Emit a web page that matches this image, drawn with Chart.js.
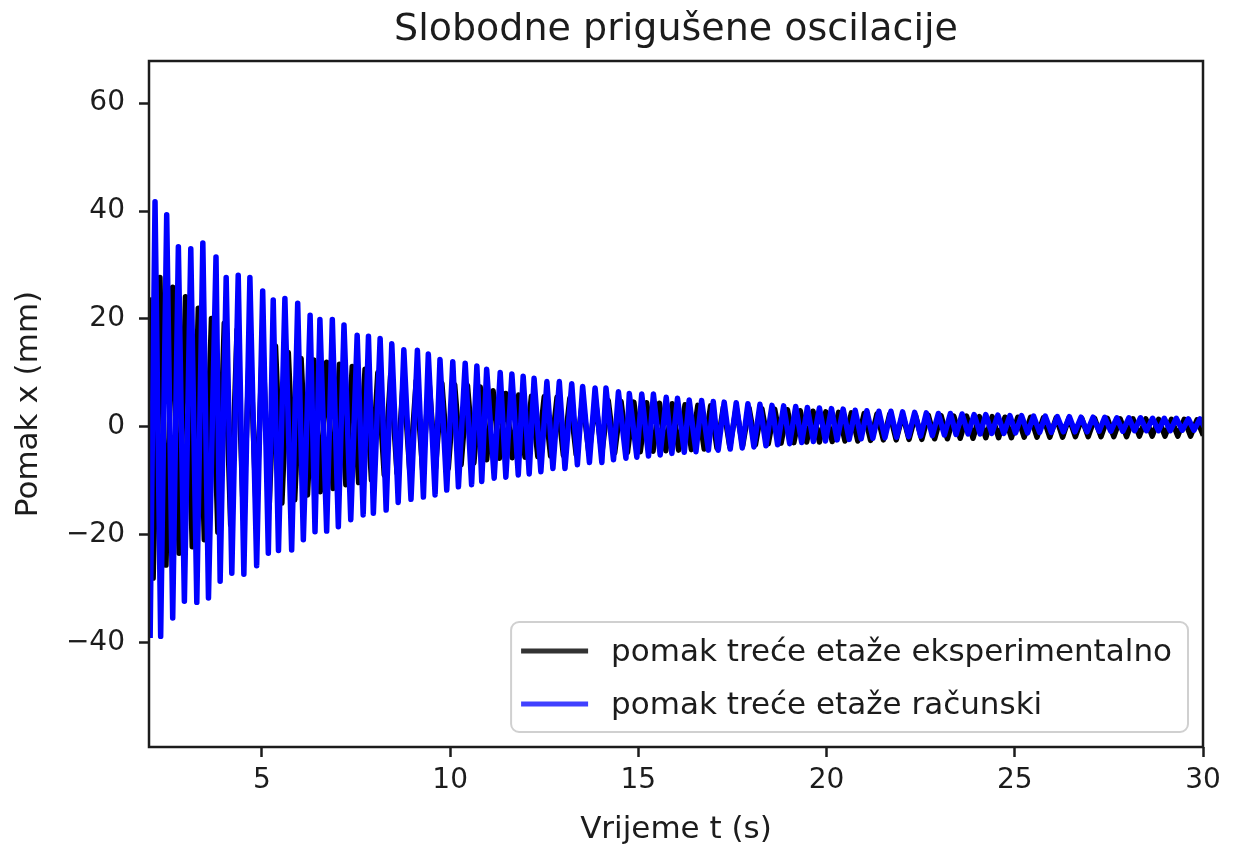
<!DOCTYPE html>
<html>
<head>
<meta charset="utf-8">
<title>Slobodne prigušene oscilacije</title>
<script src="https://cdn.jsdelivr.net/npm/chart.js@4.4.1/dist/chart.umd.min.js"></script>
<style>
  html, body { margin: 0; padding: 0; background: #fff; }
  #wrap { width: 1233px; height: 850px; }
</style>
</head>
<body>
<div id="wrap"><canvas id="osc" width="1233" height="850"></canvas></div>
<script>
// ── Data (extrema) ───────────────────────────────────────
const X_TICKS = [5, 10, 15, 20, 25, 30];
const Y_TICKS = [-40, -20, 0, 20, 40, 60];

// black: pomak treće etaže eksperimentalno
const expPeakT = [2.00, 2.29, 2.63, 2.97, 3.31, 3.66, 4.00, 4.34, 4.68, 5.02, 5.36, 5.70, 6.04, 6.38, 6.72, 7.06, 7.40, 7.74, 8.08, 8.42,
  8.76, 9.10, 9.44, 9.78, 10.12, 10.46, 10.80, 11.14, 11.48, 11.82, 12.16, 12.50, 12.84, 13.18, 13.52, 13.86, 14.20, 14.54, 14.88, 15.22,
  15.56, 15.90, 16.24, 16.58, 16.92, 17.26, 17.60, 17.94, 18.28, 18.62, 18.96, 19.30, 19.64, 19.98, 20.32, 20.66, 21.00, 21.34, 21.68, 22.02,
  22.36, 22.70, 23.04, 23.38, 23.72, 24.06, 24.40, 24.74, 25.08, 25.42, 25.76, 26.10, 26.44, 26.78, 27.12, 27.46, 27.80, 28.14, 28.48, 28.82,
  29.16, 29.50, 29.84, 30.18];
const expPeakV = [24.0, 27.7, 25.9, 24.1, 22.0, 20.1, 19.2, 18.0, 17.2, 16.1, 15.0, 13.8, 12.7, 12.4, 12.0, 11.6, 11.2, 10.7, 10.1, 9.6,
  9.0, 8.6, 8.4, 8.1, 7.8, 7.7, 7.4, 6.7, 6.2, 5.9, 5.7, 5.6, 5.5, 5.3, 5.1, 5.0, 4.9, 4.7, 4.6, 4.5,
  4.4, 4.3, 4.1, 4.0, 3.9, 3.7, 3.6, 3.5, 3.4, 3.3, 3.2, 3.0, 2.9, 2.8, 2.7, 2.6, 2.5, 2.4, 2.4, 2.3,
  2.2, 2.2, 2.1, 2.0, 2.0, 1.9, 1.9, 1.8, 1.8, 1.8, 1.7, 1.7, 1.7, 1.6, 1.6, 1.6, 1.5, 1.5, 1.5, 1.4,
  1.4, 1.4, 1.3, 1.3];
const expTroughT = [2.11, 2.45, 2.80, 3.15, 3.47, 3.83, 4.17, 4.51, 4.85, 5.19, 5.53, 5.87, 6.21, 6.55, 6.89, 7.23, 7.57, 7.91, 8.25, 8.59,
  8.93, 9.27, 9.61, 9.95, 10.29, 10.63, 10.97, 11.31, 11.65, 11.99, 12.33, 12.67, 13.01, 13.35, 13.69, 14.03, 14.37, 14.71, 15.05, 15.39,
  15.73, 16.07, 16.41, 16.75, 17.09, 17.43, 17.77, 18.11, 18.45, 18.79, 19.13, 19.47, 19.81, 20.15, 20.49, 20.83, 21.17, 21.51, 21.85, 22.19,
  22.53, 22.87, 23.21, 23.55, 23.89, 24.23, 24.57, 24.91, 25.25, 25.59, 25.93, 26.27, 26.61, 26.95, 27.29, 27.63, 27.97, 28.31, 28.65, 28.99,
  29.33, 29.67, 30.01];
const expTroughV = [-28.0, -25.6, -23.4, -22.2, -20.9, -19.5, -18.1, -17.2, -16.0, -15.1, -14.1, -13.5, -12.6, -12.0, -11.4, -10.7, -10.3, -9.8, -8.9, -8.6,
  -8.3, -8.0, -7.7, -7.7, -7.0, -6.7, -6.1, -5.8, -5.7, -5.6, -5.5, -5.4, -5.3, -5.2, -5.0, -4.9, -4.8, -4.7, -4.6, -4.5,
  -4.4, -4.3, -4.2, -4.1, -3.9, -3.7, -3.5, -3.3, -3.1, -3.0, -2.9, -2.8, -2.8, -2.7, -2.6, -2.6, -2.5, -2.4, -2.4, -2.3,
  -2.3, -2.2, -2.2, -2.1, -2.1, -2.0, -2.0, -2.0, -1.9, -1.9, -1.9, -1.9, -1.8, -1.8, -1.8, -1.8, -1.8, -1.7, -1.7, -1.7,
  -1.7, -1.7, -1.6];

// blue: pomak treće etaže računski
const calcPeakT = [2.16, 2.47, 2.78, 3.11, 3.43, 3.78, 4.05, 4.37, 4.68, 5.02, 5.30, 5.61, 5.95, 6.28, 6.54, 6.87, 7.18, 7.53, 7.83, 8.14,
  8.45, 8.77, 9.13, 9.42, 9.73, 10.07, 10.40, 10.71, 10.97, 11.33, 11.64, 11.94, 12.23, 12.57, 12.90, 13.23, 13.52, 13.85, 14.14, 14.47,
  14.76, 15.09, 15.40, 15.74, 16.04, 16.35, 16.68, 16.99, 17.28, 17.60, 17.91, 18.23, 18.55, 18.86, 19.18, 19.49, 19.81, 20.13,
  20.44, 20.76, 21.07, 21.39, 21.71, 22.02, 22.34, 22.65, 22.97, 23.29, 23.60, 23.92, 24.23, 24.55, 24.87, 25.18, 25.50, 25.81, 26.13, 26.45,
  26.76, 27.08, 27.39, 27.71, 28.03, 28.34, 28.66, 28.97, 29.29, 29.61, 29.92];
const calcPeakV = [41.7, 39.3, 33.4, 33.0, 34.1, 31.5, 27.7, 28.1, 27.7, 25.2, 23.5, 23.8, 22.9, 20.7, 19.9, 19.9, 18.9, 17.0, 16.8, 16.4,
  15.4, 14.3, 14.2, 13.5, 12.5, 12.1, 11.8, 11.3, 10.7, 10.1, 9.8, 9.4, 9.0, 8.4, 8.4, 8.0, 7.5, 7.2, 7.2, 6.5,
  6.2, 6.1, 6.1, 5.5, 5.3, 5.0, 4.9, 4.7, 4.6, 4.5, 4.3, 4.2, 4.0, 3.9, 3.8, 3.6, 3.5, 3.4,
  3.3, 3.1, 3.0, 2.9, 2.9, 2.8, 2.7, 2.6, 2.5, 2.5, 2.4, 2.3, 2.3, 2.2, 2.1, 2.1, 2.0, 2.0, 1.9, 1.9,
  1.8, 1.8, 1.8, 1.7, 1.7, 1.7, 1.6, 1.6, 1.6, 1.5, 1.5];
const calcTroughT = [2.03, 2.31, 2.63, 2.94, 3.27, 3.58, 3.89, 4.20, 4.52, 4.86, 5.17, 5.44, 5.79, 6.10, 6.41, 6.72, 7.03, 7.36, 7.69, 7.96,
  8.30, 8.62, 8.96, 9.29, 9.60, 9.91, 10.22, 10.57, 10.84, 11.17, 11.48, 11.81, 12.10, 12.41, 12.73, 13.05, 13.38, 13.70, 14.03, 14.34,
  14.67, 14.96, 15.27, 15.58, 15.89, 16.22, 16.53, 16.86, 17.12, 17.44, 17.76, 18.07, 18.39, 18.70, 19.02, 19.34, 19.65, 19.97, 20.28,
  20.60, 20.92, 21.23, 21.55, 21.86, 22.18, 22.50, 22.81, 23.13, 23.44, 23.76, 24.08, 24.39, 24.71, 25.02, 25.34, 25.66, 25.97, 26.29, 26.60,
  26.92, 27.24, 27.55, 27.87, 28.18, 28.50, 28.82, 29.13, 29.45, 29.76, 30.08];
const calcTroughV = [-39.1, -38.8, -35.4, -32.3, -32.5, -31.7, -28.6, -27.1, -27.3, -25.7, -23.4, -22.9, -22.8, -20.9, -19.4, -19.3, -18.5, -17.2, -16.3, -16.0,
  -15.4, -14.0, -13.4, -13.0, -12.6, -11.7, -11.1, -10.7, -10.1, -9.5, -9.3, -8.9, -8.7, -8.3, -7.7, -7.7, -7.0, -6.6, -6.6, -6.1,
  -5.8, -5.6, -5.4, -5.2, -4.9, -4.7, -4.6, -4.3, -4.3, -4.1, -3.9, -3.7, -3.5, -3.3, -3.1, -2.9, -2.7, -2.6, -2.4,
  -2.3, -2.2, -2.1, -2.0, -1.9, -1.8, -1.7, -1.6, -1.5, -1.4, -1.3, -1.3, -1.2, -1.2, -1.1, -1.1, -1.0, -1.0, -0.9, -0.9,
  -0.9, -0.8, -0.8, -0.8, -0.7, -0.7, -0.7, -0.7, -0.6, -0.6, -0.6];

// ── Helpers ───────────────────────────────────────────────
const FONT = "'DejaVu Sans', 'Liberation Sans', sans-serif";
const INK = '#1c1c1c';

// merge peak/trough lists into one time-ordered series
function mergeExtrema(pt, pv, tt, tv) {
  const pts = pt.map((t, i) => ({ x: t, y: pv[i] }))
    .concat(tt.map((t, i) => ({ x: t, y: tv[i] })));
  return pts.sort((a, b) => a.x - b.x);
}

// frame on all four sides + legend box, drawn over the lines
const framePlugin = {
  id: 'frame',
  afterDatasetsDraw(chart) {
    const { ctx, chartArea: a } = chart;
    ctx.save();
    ctx.strokeStyle = INK;
    ctx.lineWidth = 2.5;
    ctx.strokeRect(a.left, a.top, a.right - a.left, a.bottom - a.top);

    // legend
    ctx.font = `31px ${FONT}`;
    const sets = chart.data.datasets;
    const textW = Math.max(...sets.map(d => ctx.measureText(d.label).width));
    const w = 10 + 67 + 23 + textW + 16, h = 110;
    const x = a.right - 15 - w, y = a.bottom - 15 - h;
    ctx.beginPath();
    ctx.roundRect(x, y, w, h, 8);
    ctx.fillStyle = 'rgba(255,255,255,0.8)';
    ctx.fill();
    ctx.strokeStyle = '#d0d0d0';
    ctx.lineWidth = 2;
    ctx.stroke();
    sets.forEach((d, i) => {
      const cy = y + 29 + i * 53;
      ctx.beginPath();
      ctx.moveTo(x + 10, cy);
      ctx.lineTo(x + 77, cy);
      ctx.strokeStyle = d.legendColor;
      ctx.lineWidth = 5;
      ctx.stroke();
      ctx.fillStyle = INK;
      ctx.textBaseline = 'middle';
      ctx.textAlign = 'left';
      ctx.fillText(d.label, x + 100, cy + 2);
    });
    ctx.restore();
  },
};

// ── Chart ─────────────────────────────────────────────────
new Chart(document.getElementById('osc'), {
  type: 'line',
  data: {
    datasets: [
      {
        label: 'pomak treće etaže eksperimentalno',
        data: mergeExtrema(expPeakT, expPeakV, expTroughT, expTroughV),
        borderColor: '#000000',
        legendColor: '#333333',
        borderWidth: 5.5,
        pointRadius: 0,
        tension: 0,
        borderJoinStyle: 'round',
        order: 1,
      },
      {
        label: 'pomak treće etaže računski',
        data: mergeExtrema(calcPeakT, calcPeakV, calcTroughT, calcTroughV),
        borderColor: '#0000ff',
        legendColor: '#4040ff',
        borderWidth: 5.5,
        pointRadius: 0,
        tension: 0,
        borderJoinStyle: 'round',
        order: 0,
      },
    ],
  },
  options: {
    responsive: false,
    devicePixelRatio: 1,
    animation: false,
    parsing: false,
    normalized: true,
    layout: { padding: { left: 0, right: 30, top: 0, bottom: 0 } },
    plugins: {
      legend: { display: false },
      tooltip: { enabled: false },
      title: {
        display: true,
        fullSize: false,
        text: 'Slobodne prigušene oscilacije',
        color: INK,
        font: { family: FONT, size: 38, weight: 'normal', lineHeight: 1.2 },
        padding: { top: 7, bottom: 8.4 },
      },
    },
    scales: {
      x: {
        type: 'linear',
        min: 2,
        max: 30,
        afterBuildTicks: s => { s.ticks = X_TICKS.map(v => ({ value: v })); },
        afterFit: s => { s.height = 103; },
        ticks: { color: INK, font: { family: FONT, size: 28 }, padding: 7, maxRotation: 0 },
        grid: { drawOnChartArea: false, drawTicks: true, tickLength: 10, tickWidth: 2.5, tickColor: INK },
        border: { display: false },
        title: {
          display: true,
          text: 'Vrijeme t (s)',
          color: INK,
          font: { family: FONT, size: 31, lineHeight: 1.2 },
          padding: { top: 0, bottom: 1 },
        },
      },
      y: {
        type: 'linear',
        min: -59.3,
        max: 67.8,
        afterBuildTicks: s => { s.ticks = Y_TICKS.map(v => ({ value: v })); },
        afterFit: s => { s.width = 149; },
        ticks: {
          color: INK,
          font: { family: FONT, size: 28 },
          padding: 14,
          callback: v => (v < 0 ? '\u2212' + Math.abs(v) : String(v)),
        },
        grid: { drawOnChartArea: false, drawTicks: true, tickLength: 10, tickWidth: 2.5, tickColor: INK },
        border: { display: false },
        title: {
          display: true,
          text: 'Pomak x (mm)',
          color: INK,
          font: { family: FONT, size: 31, lineHeight: 1.2 },
          padding: { top: 10, bottom: 0 },
        },
      },
    },
  },
  plugins: [framePlugin],
});
</script>
</body>
</html>
